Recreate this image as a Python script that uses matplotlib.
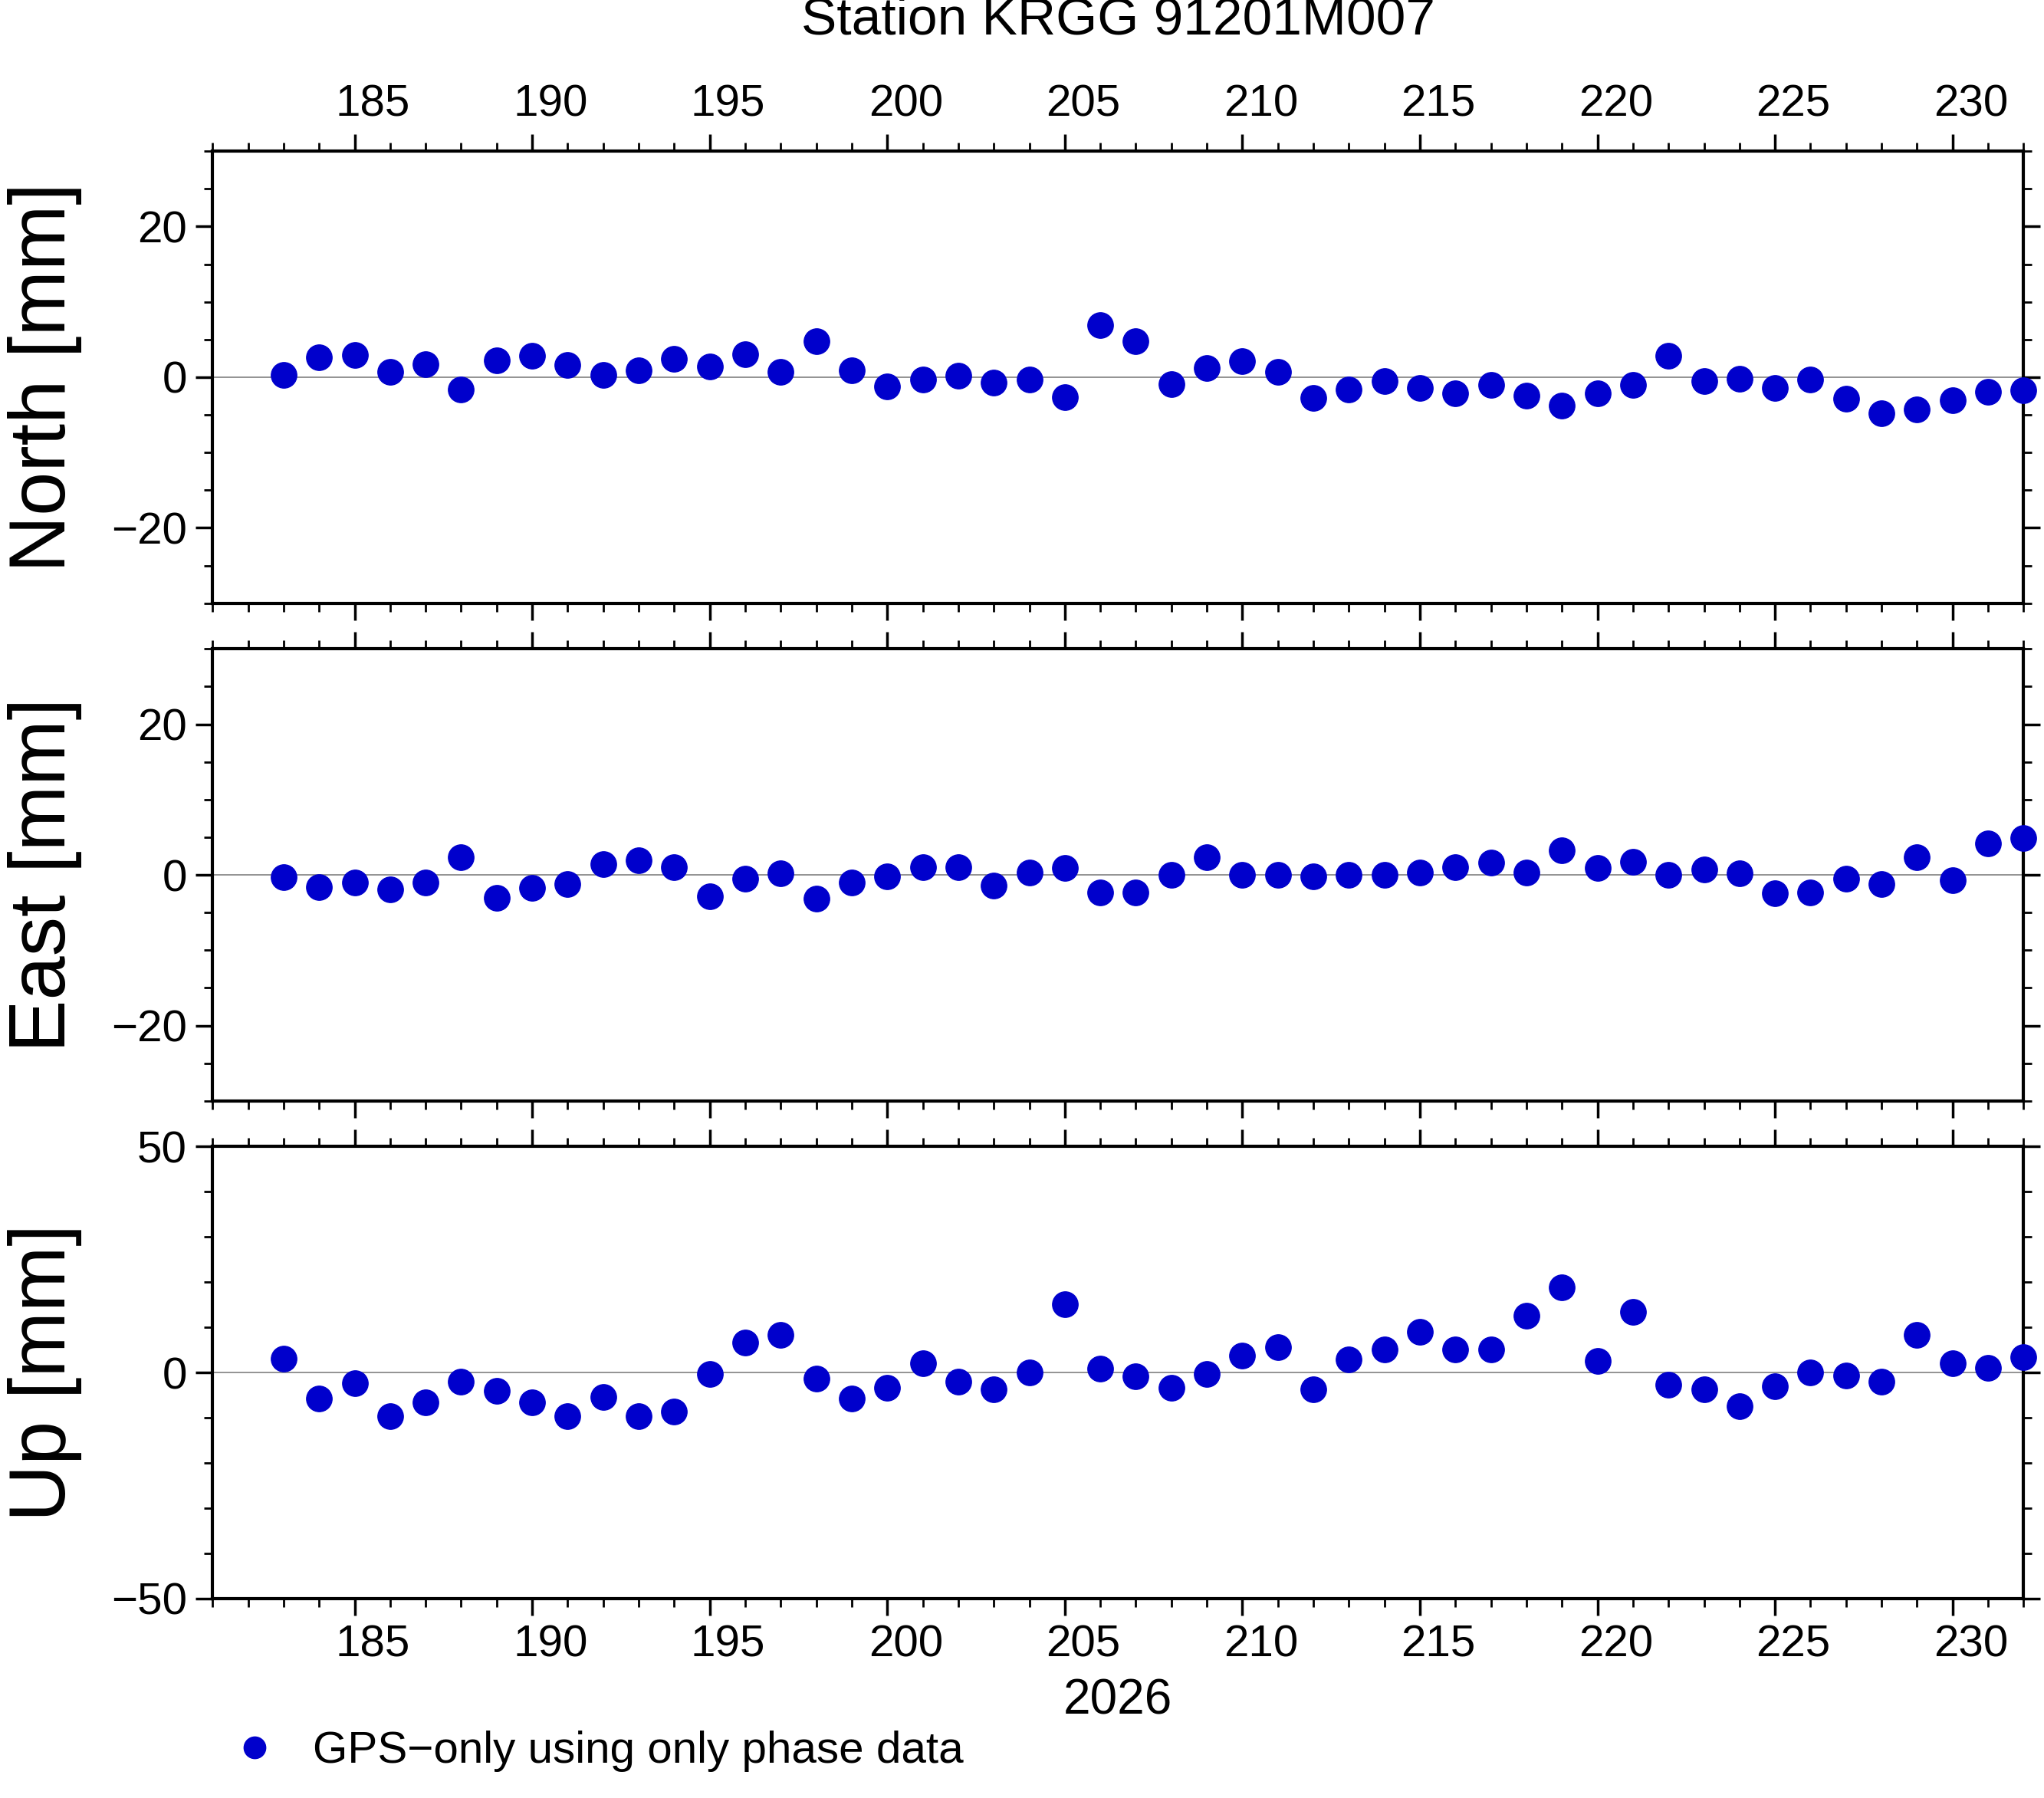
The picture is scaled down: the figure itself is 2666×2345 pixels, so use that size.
import matplotlib
matplotlib.use("Agg")
import matplotlib.pyplot as plt
import matplotlib.transforms as mt
import numpy as np

days = list(range(183, 233))
north = [0.3,2.6,2.9,0.7,1.7,-1.6,2.2,2.8,1.6,0.3,0.9,2.4,1.4,3.1,0.7,4.8,0.9,-1.2,-0.3,0.2,
         -0.7,-0.3,-2.6,6.9,4.8,-0.9,1.2,2.1,0.7,-2.8,-1.6,-0.5,-1.4,-2.1,-1.0,-2.4,-3.8,-2.1,-1.0,2.8,
         -0.5,-0.2,-1.4,-0.3,-2.9,-4.8,-4.3,-3.1,-1.9,-1.7]
east = [-0.3,-1.6,-1.0,-1.9,-1.0,2.3,-3.0,-1.7,-1.2,1.4,1.9,1.0,-2.8,-0.5,0.2,-3.1,-1.0,-0.2,1.0,1.0,
        -1.4,0.3,0.9,-2.3,-2.3,0.0,2.3,0.0,0.0,-0.2,0.0,0.0,0.3,1.0,1.6,0.3,3.3,0.9,1.7,0.0,
        0.7,0.2,-2.4,-2.3,-0.5,-1.2,2.3,-0.7,4.2,4.9]
up = [3.1,-5.7,-2.3,-9.7,-6.6,-2.0,-4.0,-6.6,-9.7,-5.4,-9.7,-8.6,-0.3,6.6,8.3,-1.4,-5.7,-3.4,2.0,-2.0,
      -3.7,0.0,15.1,0.9,-0.9,-3.4,-0.3,3.7,5.7,-3.7,2.9,5.1,9.1,5.1,5.1,12.6,18.9,2.6,13.4,-2.6,
      -3.7,-7.4,-3.1,0.0,-0.6,-2.0,8.3,2.0,1.1,3.4]
xticks = [185, 190, 195, 200, 205, 210, 215, 220, 225, 230]
labels = ["North [mm]", "East [mm]", "Up [mm]"]
ylims = [(-30, 30), (-30, 30), (-50, 50)]
yticks = [[-20, 0, 20], [-20, 0, 20], [-50, 0, 50]]

plt.rcParams['font.family'] = ['Liberation Sans', 'DejaVu Sans']
fig = plt.figure(figsize=(26.66, 23.45), dpi=100)
col = '#0000cc'
rects = [(0.6645, 0.9159), (0.3877, 0.6391), (0.1109, 0.3623)]
L, R = 0.104, 0.990
for i, (data, lab) in enumerate(zip([north, east, up], labels)):
    b, t = rects[i]
    ax = fig.add_axes([L, b, R - L, t - b])
    ax.axhline(0, color='gray', lw=1.2, zorder=1)
    ax.plot(days, data, 'o', color=col, ms=24, clip_on=False, zorder=3, label='GPS\u2212only using only phase data')
    ax.set_xlim(181, 232)
    ax.set_ylim(*ylims[i])
    ax.set_yticks(yticks[i])
    ax.set_yticklabels([str(v).replace('-', '\u2212') for v in yticks[i]])
    ax.set_yticks(np.arange(ylims[i][0], ylims[i][1] + 1, 5 if i < 2 else 10), minor=True)
    ax.set_xticks(range(181, 233), minor=True)
    ax.set_xticks(xticks, minor=False)
    ax.tick_params(which='major', length=16, width=2.5, labelsize=42, direction='out',
                   top=True, bottom=True, left=True, right=True, pad=8)
    ax.tick_params(which='minor', length=8, width=2, direction='out',
                   top=True, bottom=True, left=True, right=True)
    for s in ax.spines.values():
        s.set_linewidth(3)
    ax.set_ylabel(lab, fontsize=74)
    ax.yaxis.set_label_coords(-0.072, 0.5)
    if i == 0:
        ax.tick_params(labeltop=True, labelbottom=False)
        ax.set_title('Station KRGG 91201M007', fontsize=50, pad=110)
    elif i == 1:
        ax.tick_params(labelbottom=False)
    else:
        ax.set_xlabel('2026', fontsize=46, labelpad=12)
        h, l = ax.get_legend_handles_labels()
        fig.legend(h, l, loc='lower left', bbox_to_anchor=(0.083, -0.008), frameon=False,
                   fontsize=42, handletextpad=0.3, markerscale=0.85)
    off = mt.ScaledTranslation(0.24, 0, fig.dpi_scale_trans)
    for lbl in ax.get_xticklabels():
        lbl.set_transform(lbl.get_transform() + off)

fig.savefig('out.png', dpi=100)
